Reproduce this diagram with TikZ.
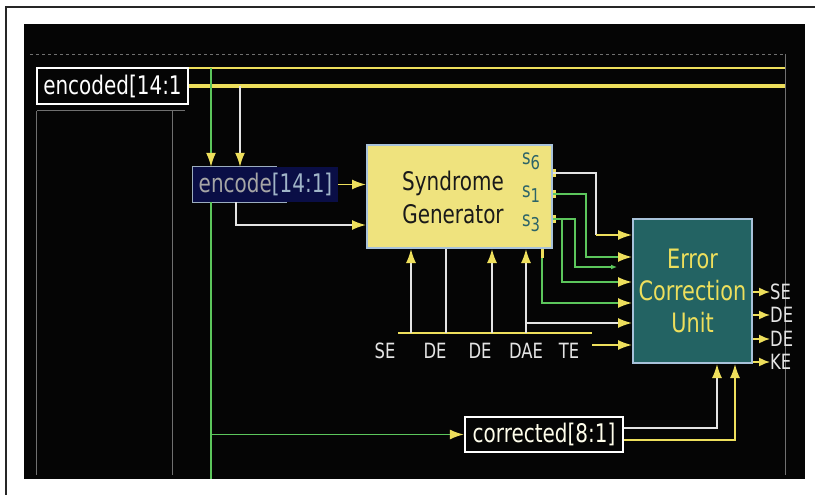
\documentclass[tikz,border=0pt]{standalone}
\usepackage{fontspec}
\newfontfamily\diafont[FakeStretch=0.78]{DejaVu Sans}
\usetikzlibrary{arrows.meta}

\definecolor{scrblack}{HTML}{050505}
\definecolor{wyel}{HTML}{EEDF5C}
\definecolor{wgreen}{HTML}{5CC65C}
\definecolor{wwhite}{HTML}{E4E4E4}
\definecolor{wgray}{HTML}{707070}
\definecolor{synfill}{HTML}{EFE37E}
\definecolor{ecufill}{HTML}{236363}
\definecolor{boxedge}{HTML}{A8C2DA}
\definecolor{encfill}{HTML}{0A0E46}
\definecolor{slabcol}{HTML}{2C6468}

\newcommand\synpin[1]{s\raisebox{-5pt}{\fontsize{19}{19}\selectfont #1}}

\tikzset{
  wire/.style={line width=1.6pt},
  ywire/.style={wire, draw=wyel},
  gwire/.style={wire, draw=wgreen},
  whwire/.style={wire, draw=wwhite},
  yarrow/.style={-{Latex[length=14pt,width=10pt,color=wyel]}},
  youtarrow/.style={-{Latex[length=11pt,width=9pt,color=wyel]}},
  labbox/.style={draw=white, line width=2.2pt, inner sep=0pt, text=white},
  pinlab/.style={inner sep=0pt, text=wwhite, font=\diafont\fontsize{21}{24}\selectfont},
  slab/.style={text=slabcol, inner sep=0pt, font=\diafont\fontsize{21}{21}\selectfont},
}

\begin{document}
\begin{tikzpicture}[x=1pt, y=-1pt, font=\diafont\fontsize{25.6}{33}\selectfont]

    % --- page and schematic window ---
    \useasboundingbox (0,0) rectangle (815,495);
    \fill[white] (0,0) rectangle (815,495);
    \draw[line width=1.5pt, black!85] (6,495) -- (6,7) -- (815,7);
    \fill[scrblack] (24,24) rectangle (805,479);

    \draw[wgray, dashed, line width=0.8pt] (30,54) -- (785,54);
    \draw[wgray, line width=1pt] (785,54) -- (785,475);
    \draw[wgray, line width=1pt] (37,111) -- (185,111) (36,111) -- (36,475) (172,111) -- (172,475);

    % --- blocks ---
    \node[labbox, minimum width=151, minimum height=36] (encoded) at (112.5,86) {encoded[14:1};

    \node[fill=encfill, minimum width=145, minimum height=35, inner sep=0pt,
      text=boxedge!80!gray] (encode) at (265.5,184.5)
      {\textcolor{gray!70}{encode}[14:1]};
    \draw[boxedge!70!gray, line width=1.2pt] ([xshift=84pt]encode.north west) -- (encode.north west)
      -- (encode.south west) -- ([xshift=94pt]encode.south west);

    \node[fill=synfill, draw=boxedge, line width=2pt, minimum width=185, minimum height=103]
      (syn) at (459.5,196.5) {};
    \node[align=center, text=black!90, inner sep=0pt] (syntitle) at (453,197) {Syndrome\\Generator};
    \node[slab] (s6) at (531,161) {\synpin{6}};
    \node[slab] (s1) at (531,194) {\synpin{1}};
    \node[slab] (s3) at (531,223) {\synpin{3}};

    \node[fill=ecufill, draw=boxedge, line width=2pt, minimum width=119, minimum height=144,
      align=center, text=wyel, font=\diafont\fontsize{26.7}{32}\selectfont] (ecu) at (692.5,291)
      {Error\\Correction\\Unit};

    \node[labbox, minimum width=158, minimum height=35, text=white!92!yellow] (corr) at (544,434.5)
      {corrected[8:1]};

    % --- pin labels ---
    \node[pinlab] (lse) at (385,351) {SE};
    \node[pinlab] (lde1) at (435,351) {DE};
    \node[pinlab] (lde2) at (480,351) {DE};
    \node[pinlab] (ldae) at (526,351) {DAE};
    \node[pinlab] (lte) at (569,351) {TE};

    \node[pinlab, anchor=west] (ose) at (770,292) {SE};
    \node[pinlab, anchor=west] (ode1) at (770,315) {DE};
    \node[pinlab, anchor=west] (ode2) at (770,339) {DE};
    \node[pinlab, anchor=west] (oke) at (770,362) {KE};

    % --- encoded bus ---
    \draw[ywire, line width=1.4pt] (encoded.east |- 0,68) -- (785,68);
    \draw[ywire, line width=4pt] (encoded.east) -- (785,86);

    % green net down the left
    \draw[gwire, yarrow] (211,68) -- (encode.north -| 211,0);
    \draw[gwire] (encode.south -| 211,0) -- (211,479);
    \draw[gwire, yarrow] (211,0 |- corr.west) -- (corr.west);

    \draw[whwire, yarrow] (240,86) -- (encode.north -| 240,0);
    \draw[ywire, yarrow] (encode.east) -- (syn.west |- encode.east);
    \draw[whwire, yarrow] (encode.south -| 236,0) |- (syn.west |- 0,225);

    % --- syndrome outputs ---
    \foreach \y in {173,194,219}
      \draw[wyel, line width=3pt] (554,\y-4) -- (554,\y+4);
    \draw[whwire] (syn.east |- 0,173) -| (596,235);
    \draw[ywire, yarrow] (596,235) -- (ecu.west |- 0,235);
    \draw[gwire, yarrow] (syn.east |- 0,194) -| (586,257) -- (ecu.west |- 0,257);
    \draw[gwire, -{Latex[length=6pt,width=5pt]}] (syn.east |- 0,219) -| (575,267) -- (617,267);
    \draw[gwire, yarrow] (562,219) |- (ecu.west |- 0,282);
    \draw[wyel, line width=3pt] (542,249) -- (542,258);
    \draw[gwire, yarrow] (542,258) |- (ecu.west |- 0,303);

    % --- bottom inputs ---
    \draw[ywire] (398,333) -- (592,333);
    \foreach \x in {411,492,526}
      \draw[whwire, yarrow] (\x,333) -- (syn.south -| \x,0);
    \draw[whwire] (446,333) -- (syn.south -| 446,0);
    \draw[whwire, yarrow] (526,323) -- (ecu.west |- 0,323);
    \draw[ywire, yarrow] (592,345) -- (ecu.west |- 0,345);

    % --- correction unit outputs ---
    \foreach \n in {ose,ode1,ode2,oke}
      \draw[ywire, youtarrow] (ecu.east |- \n.west) -- (\n.west);

    \draw[whwire, yarrow] (corr.east |- 0,428) -| (ecu.south -| 717,0);
    \draw[ywire, yarrow] (corr.east |- 0,440) -| (ecu.south -| 735,0);

\end{tikzpicture}
\end{document}
